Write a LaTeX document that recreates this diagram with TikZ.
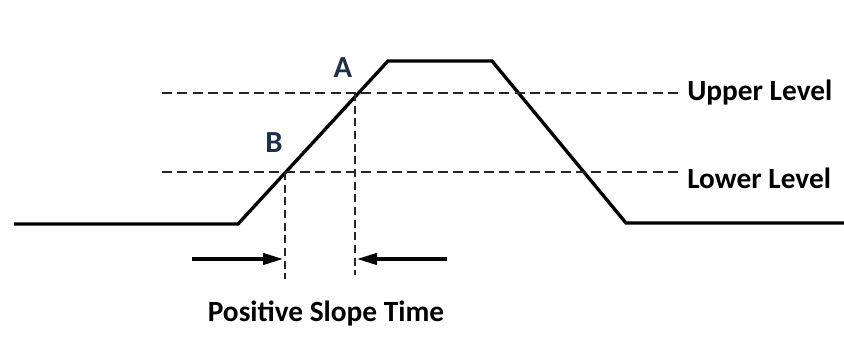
\documentclass[tikz,border=0pt]{standalone}
\usepackage{fontspec}
\setmainfont{Carlito}
\usetikzlibrary{arrows.meta}
\definecolor{ptnavy}{RGB}{28,48,78}

\begin{document}
\begin{tikzpicture}[x=0.75pt, y=-0.75pt,
  wave/.style={line width=2.5pt, line join=miter},
  level/.style={line width=1.6pt, dash pattern=on 7.5pt off 4pt, black!85},
  mark line/.style={line width=1.6pt, dash pattern=on 6pt off 3.5pt, black!85},
  pointer/.style={line width=2.5pt, -{Triangle[length=15pt, width=8.5pt]}},
  lbl/.style={font=\fontsize{22}{26}\selectfont\bfseries, inner sep=0pt},
  pt/.style={font=\fontsize{23}{26}\selectfont\bfseries, text=ptnavy, inner sep=0pt}]
\useasboundingbox (0,0) rectangle (844,343);
% waveform
\draw[wave] (14,224) -- (238,224) -- (388,61) -- (492,61) -- (626,223) -- (844,223);
% levels
\node[lbl, anchor=west] (upper) at (687,93) {Upper Level};
\node[lbl, anchor=west] (lower) at (687,178) {Lower Level};
\coordinate (upstart) at (162,93);
\coordinate (lowstart) at (162,172);
\draw[level] (upstart) -- (680,93);
\draw[level] (lowstart) -- (680,172);
% crossing points
\coordinate (cb) at (285,172);
\coordinate (ca) at (355,93);
\node[pt] (A) at (343,68) {A};
\node[pt] (B) at (274,143) {B};
\coordinate (cbend) at (285,279);
\coordinate (caend) at (355,275);
\draw[mark line] (cb) -- (cbend);
\draw[mark line] (ca) -- (caend);
% arrows
\coordinate (lfrom) at (192,259);
\coordinate (lto) at (283,259);
\coordinate (rfrom) at (447,259);
\coordinate (rto) at (357,259);
\draw[pointer] (lfrom) -- (lto);
\draw[pointer] (rfrom) -- (rto);
\node[lbl] (slope) at (326,313) {Positive Slope Time};
\end{tikzpicture}
\end{document}
